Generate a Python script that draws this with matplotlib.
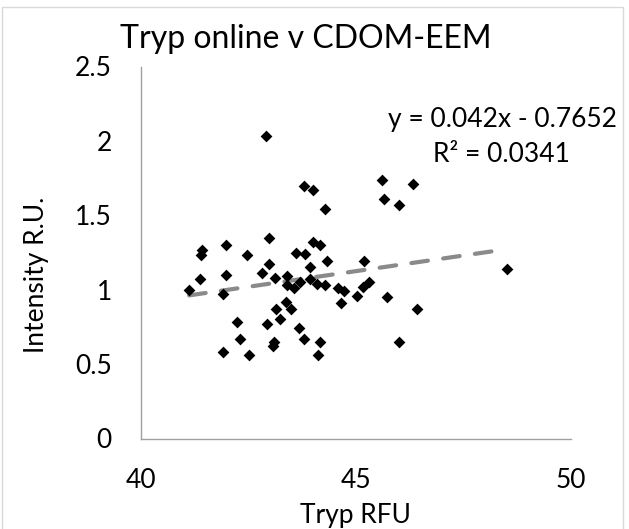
import matplotlib
matplotlib.use("Agg")
import matplotlib.pyplot as plt
from matplotlib.patches import Rectangle

plt.rcParams['font.family'] = ['Lato', 'DejaVu Sans']

tryp_rfu = [42.91, 43.79, 44.01, 44.28, 42.98, 41.43, 41.40, 41.98, 42.46, 43.99,
            44.16, 43.60, 43.81, 44.33, 42.98, 43.93, 41.37, 41.97, 42.81, 43.12,
            43.40, 41.12, 41.90, 43.40, 43.70, 43.92, 44.09, 44.29, 44.57, 44.72,
            44.65, 45.02, 45.16, 45.31, 45.19, 45.60, 46.32, 45.66, 46.00, 48.50,
            45.71, 46.43, 46.00, 43.37, 43.49, 43.14, 43.23, 42.94, 43.68, 42.23,
            42.30, 43.79, 43.09, 43.08, 44.16, 44.12, 41.90, 42.50, 43.55]
intensity = [2.03, 1.70, 1.67, 1.54, 1.35, 1.27, 1.23, 1.30, 1.23, 1.32,
             1.30, 1.25, 1.24, 1.19, 1.17, 1.15, 1.07, 1.10, 1.11, 1.08,
             1.09, 1.00, 0.97, 1.03, 1.05, 1.07, 1.04, 1.03, 1.01, 0.99,
             0.91, 0.96, 1.02, 1.05, 1.19, 1.74, 1.71, 1.61, 1.57, 1.14,
             0.95, 0.87, 0.65, 0.92, 0.87, 0.87, 0.80, 0.77, 0.74, 0.78,
             0.67, 0.67, 0.65, 0.62, 0.65, 0.56, 0.58, 0.56, 1.01]

slope = 0.042
intercept = -0.7652
x_ticks = [40, 45, 50]
y_ticks = [0, 0.5, 1, 1.5, 2, 2.5]
y_tick_labels = ['0', '0.5', '1', '1.5', '2', '2.5']

W, H = 629, 529
fig = plt.figure(figsize=(W / 100, H / 100), dpi=100)
ax = fig.add_axes([141 / W, 1 - 438.5 / H, 430 / W, 372 / H])

ax.scatter(tryp_rfu, intensity, marker='D', s=36, color='black', zorder=3, linewidths=0)

xmin, xmax = min(tryp_rfu), max(tryp_rfu)
ax.plot([xmin, xmax], [slope * xmin + intercept, slope * xmax + intercept],
        color='#8a8a8a', lw=3, linestyle=(0, (4, 3.7)), dash_capstyle='round', zorder=2)

ax.set_xlim(40, 50)
ax.set_ylim(0, 2.5)
ax.set_xticks(x_ticks)
ax.set_xticklabels([str(t) for t in x_ticks])
ax.set_yticks(y_ticks)
ax.set_yticklabels(y_tick_labels)
ax.tick_params(length=0, labelsize=19, colors='black')
ax.tick_params(axis='y', pad=21)
ax.tick_params(axis='x', pad=21)
for s in ['top', 'right']:
    ax.spines[s].set_visible(False)
for s in ['left', 'bottom']:
    ax.spines[s].set_color('#a0a0a0')
    ax.spines[s].set_linewidth(1)

fig.text(37 / W, 1 - 275 / H, 'Intensity R.U.', rotation=90, ha='center', va='center', fontsize=19)
fig.text(355 / W, 1 - 523 / H, 'Tryp RFU', ha='center', va='baseline', fontsize=19)
fig.text(306 / W, 1 - 47.7 / H, 'Tryp online v CDOM-EEM', ha='center', va='baseline', fontsize=23)
fig.text(503 / W, 1 - 126.7 / H, 'y = 0.042x - 0.7652', ha='center', va='baseline', fontsize=19)
fig.text(501 / W, 1 - 161.7 / H, 'R² = 0.0341', ha='center', va='baseline', fontsize=19)

fig.patches.append(Rectangle((2 / W, -0.01), 621 / W, 1.01 - 7 / H, transform=fig.transFigure,
                             fill=False, edgecolor='#d9d9d9', lw=1))

fig.savefig('out.png', dpi=100)
